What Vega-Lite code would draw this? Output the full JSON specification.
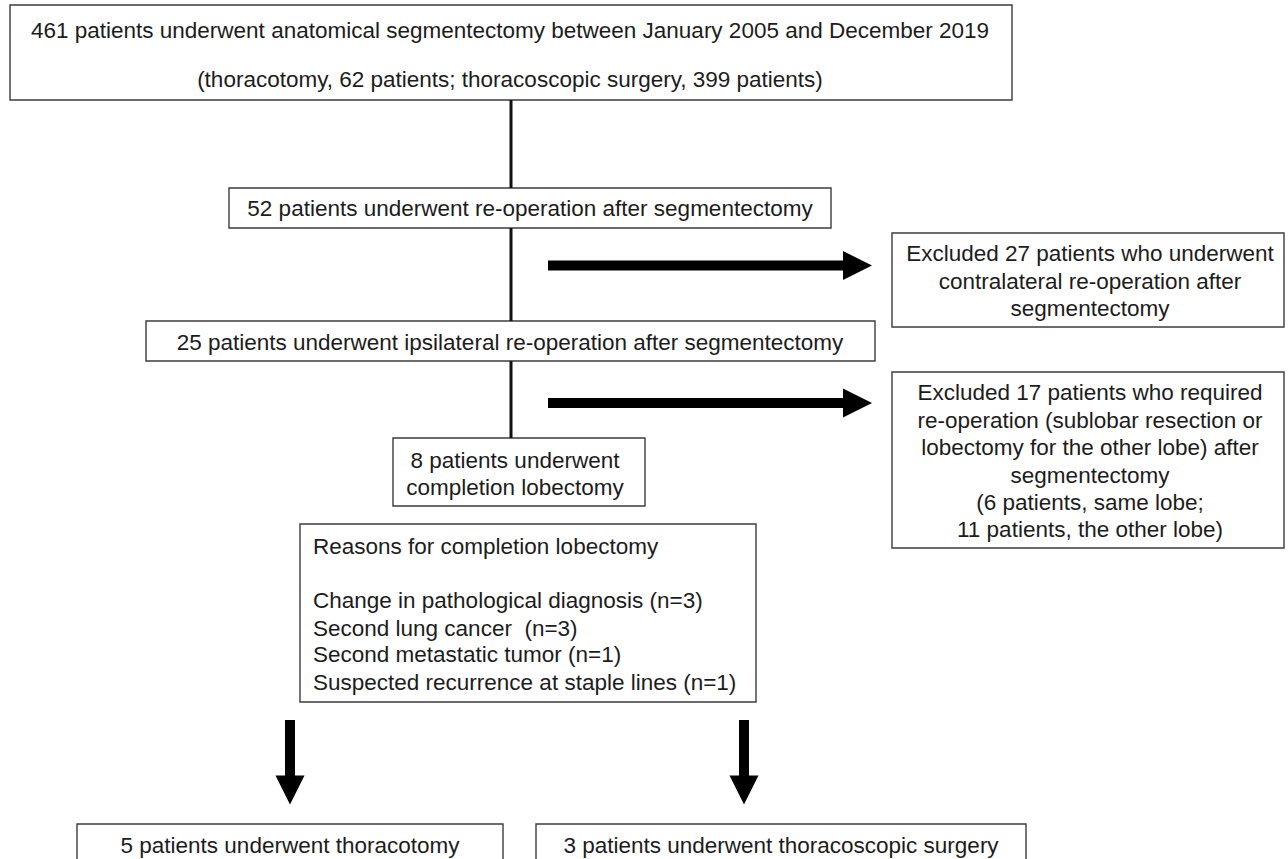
{
  "$schema": "https://vega.github.io/schema/vega-lite/v6.json",
  "width": 1288,
  "height": 859,
  "padding": 0,
  "autosize": {"type": "none"},
  "background": "white",
  "config": {"view": {"stroke": null}},
  "datasets": {
    "boxes": [
      {"id": "start", "x1": 10, "x2": 1012, "y1": 5, "y2": 100},
      {"id": "reop", "x1": 229, "x2": 831, "y1": 188, "y2": 228},
      {"id": "ipsi", "x1": 146, "x2": 875, "y1": 321, "y2": 361},
      {"id": "excl27", "x1": 892, "x2": 1284, "y1": 233, "y2": 327},
      {"id": "excl17", "x1": 892, "x2": 1284, "y1": 372, "y2": 548},
      {"id": "complete", "x1": 393, "x2": 645, "y1": 438, "y2": 506},
      {"id": "reasons", "x1": 300, "x2": 756, "y1": 524, "y2": 702},
      {"id": "thoracotomy", "x1": 77, "x2": 503, "y1": 824, "y2": 880},
      {"id": "vats", "x1": 536, "x2": 1026, "y1": 824, "y2": 880}
    ],
    "connectors": [
      {"x": 511, "y1": 100, "y2": 188},
      {"x": 511, "y1": 228, "y2": 321},
      {"x": 511, "y1": 361, "y2": 438}
    ],
    "arrows": [
      {"dir": "right", "x1": 548, "y1": 265.5, "x2": 845, "y2": 265.5, "hx": 857.5, "hy": 265.5},
      {"dir": "right", "x1": 548, "y1": 403, "x2": 845, "y2": 403, "hx": 857.5, "hy": 403},
      {"dir": "down", "x1": 290, "y1": 720, "x2": 290, "y2": 778, "hx": 290, "hy": 790},
      {"dir": "down", "x1": 744, "y1": 720, "x2": 744, "y2": 778, "hx": 744, "hy": 790}
    ],
    "centerText": [
      {"x": 510, "y": 38, "text": "461 patients underwent anatomical segmentectomy between January 2005 and December 2019"},
      {"x": 510, "y": 87, "text": "(thoracotomy, 62 patients; thoracoscopic surgery, 399 patients)"},
      {"x": 530, "y": 216, "text": "52 patients underwent re-operation after segmentectomy"},
      {"x": 510, "y": 350, "text": "25 patients underwent ipsilateral re-operation after segmentectomy"},
      {"x": 1090, "y": 261, "text": "Excluded 27 patients who underwent"},
      {"x": 1090, "y": 288.5, "text": "contralateral re-operation after"},
      {"x": 1090, "y": 316, "text": "segmentectomy"},
      {"x": 1090, "y": 400, "text": "Excluded 17 patients who required"},
      {"x": 1090, "y": 427.5, "text": "re-operation (sublobar resection or"},
      {"x": 1090, "y": 455, "text": "lobectomy for the other lobe) after"},
      {"x": 1090, "y": 482.5, "text": "segmentectomy"},
      {"x": 1090, "y": 510, "text": "(6 patients, same lobe;"},
      {"x": 1090, "y": 537, "text": "11 patients, the other lobe)"},
      {"x": 515, "y": 467.5, "text": "8 patients underwent"},
      {"x": 515, "y": 494.5, "text": "completion lobectomy"},
      {"x": 290, "y": 853, "text": "5 patients underwent thoracotomy"},
      {"x": 781, "y": 853, "text": "3 patients underwent thoracoscopic surgery"}
    ],
    "leftText": [
      {"x": 313, "y": 554, "text": "Reasons for completion lobectomy"},
      {"x": 313, "y": 608, "text": "Change in pathological diagnosis (n=3)"},
      {"x": 313, "y": 636, "text": "Second lung cancer\u00a0 (n=3)"},
      {"x": 313, "y": 662, "text": "Second metastatic tumor (n=1)"},
      {"x": 313, "y": 690, "text": "Suspected recurrence at staple lines (n=1)"}
    ]
  },
  "layer": [
    {
      "data": {"name": "boxes"},
      "mark": {"type": "rect", "fill": "white", "stroke": "#3c3c3c", "strokeWidth": 1.4, "clip": true},
      "encoding": {
        "x": {"field": "x1", "type": "quantitative", "axis": null, "scale": {"domain": [0, 1288], "nice": false, "zero": false}},
        "x2": {"field": "x2"},
        "y": {"field": "y1", "type": "quantitative", "axis": null, "scale": {"domain": [0, 859], "nice": false, "zero": false, "reverse": true}},
        "y2": {"field": "y2"}
      }
    },
    {
      "data": {"name": "connectors"},
      "mark": {"type": "rule", "color": "#111111", "strokeWidth": 3},
      "encoding": {
        "x": {"field": "x", "type": "quantitative", "axis": null, "scale": {"domain": [0, 1288], "nice": false, "zero": false}},
        "y": {"field": "y1", "type": "quantitative", "axis": null, "scale": {"domain": [0, 859], "nice": false, "zero": false, "reverse": true}},
        "y2": {"field": "y2"}
      }
    },
    {
      "data": {"name": "arrows"},
      "mark": {"type": "rule", "color": "#000000", "strokeWidth": 10, "strokeCap": "butt"},
      "encoding": {
        "x": {"field": "x1", "type": "quantitative", "axis": null, "scale": {"domain": [0, 1288], "nice": false, "zero": false}},
        "x2": {"field": "x2"},
        "y": {"field": "y1", "type": "quantitative", "axis": null, "scale": {"domain": [0, 859], "nice": false, "zero": false, "reverse": true}},
        "y2": {"field": "y2"}
      }
    },
    {
      "data": {"name": "arrows"},
      "transform": [{"filter": "datum.dir === 'right'"}],
      "mark": {"type": "point", "shape": "M1,0L-1,-1L-1,1Z", "filled": true, "color": "#000000", "opacity": 1, "size": 841, "strokeWidth": 0},
      "encoding": {
        "x": {"field": "hx", "type": "quantitative", "axis": null, "scale": {"domain": [0, 1288], "nice": false, "zero": false}},
        "y": {"field": "hy", "type": "quantitative", "axis": null, "scale": {"domain": [0, 859], "nice": false, "zero": false, "reverse": true}}
      }
    },
    {
      "data": {"name": "arrows"},
      "transform": [{"filter": "datum.dir === 'down'"}],
      "mark": {"type": "point", "shape": "M0,1L-1,-1L1,-1Z", "filled": true, "color": "#000000", "opacity": 1, "size": 841, "strokeWidth": 0},
      "encoding": {
        "x": {"field": "hx", "type": "quantitative", "axis": null, "scale": {"domain": [0, 1288], "nice": false, "zero": false}},
        "y": {"field": "hy", "type": "quantitative", "axis": null, "scale": {"domain": [0, 859], "nice": false, "zero": false, "reverse": true}}
      }
    },
    {
      "data": {"name": "centerText"},
      "mark": {"type": "text", "align": "center", "baseline": "alphabetic", "font": "Liberation Sans", "fontSize": 22.5, "color": "#1c1c1c"},
      "encoding": {
        "x": {"field": "x", "type": "quantitative", "axis": null, "scale": {"domain": [0, 1288], "nice": false, "zero": false}},
        "y": {"field": "y", "type": "quantitative", "axis": null, "scale": {"domain": [0, 859], "nice": false, "zero": false, "reverse": true}},
        "text": {"field": "text"}
      }
    },
    {
      "data": {"name": "leftText"},
      "mark": {"type": "text", "align": "left", "baseline": "alphabetic", "font": "Liberation Sans", "fontSize": 22.5, "color": "#1c1c1c"},
      "encoding": {
        "x": {"field": "x", "type": "quantitative", "axis": null, "scale": {"domain": [0, 1288], "nice": false, "zero": false}},
        "y": {"field": "y", "type": "quantitative", "axis": null, "scale": {"domain": [0, 859], "nice": false, "zero": false, "reverse": true}},
        "text": {"field": "text"}
      }
    }
  ]
}
